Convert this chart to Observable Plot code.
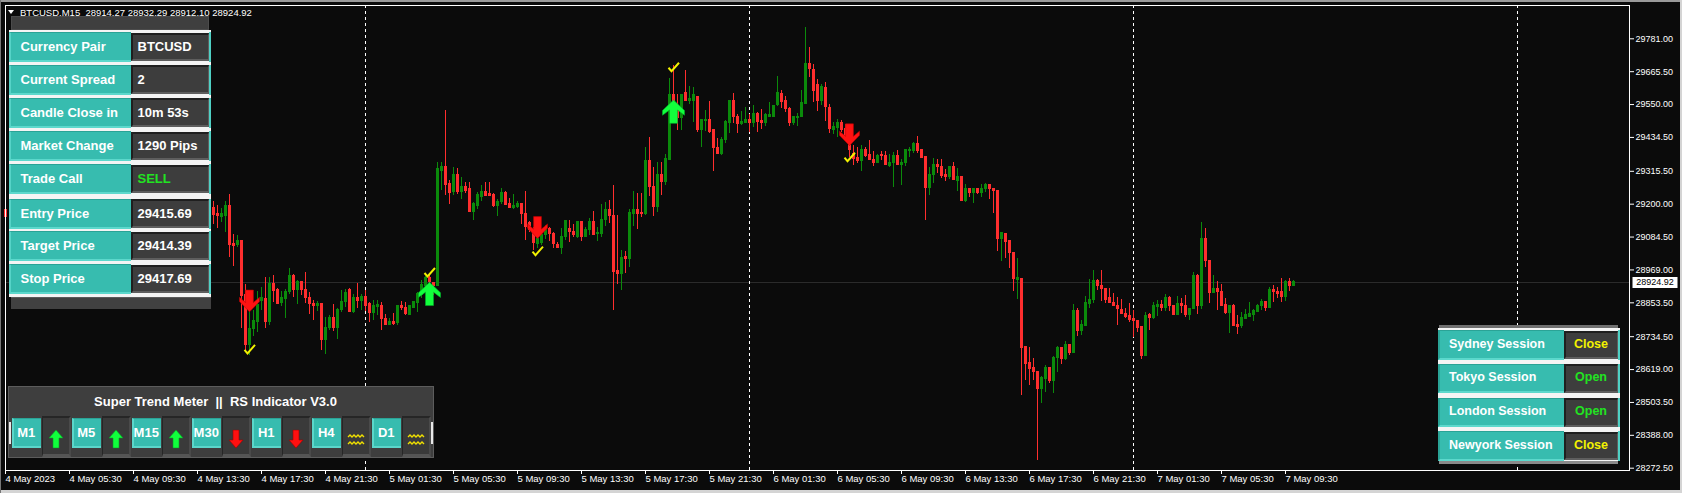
<!DOCTYPE html>
<html><head><meta charset="utf-8">
<script src="https://cdn.jsdelivr.net/npm/d3@7"></script>
<script src="https://cdn.jsdelivr.net/npm/@observablehq/plot@0.6"></script>
<style>
html,body{margin:0;padding:0;background:#0b0b0b;}
#wrap{position:relative;width:1682px;height:493px;overflow:hidden;background:#0b0b0b;font-family:"Liberation Sans",Arial,sans-serif;}
.abs{position:absolute;box-sizing:border-box;}
.txt{position:absolute;white-space:pre;font-weight:bold;line-height:1;transform:translateY(-50%);}
</style></head><body><div id="wrap"></div>
<script>
// ---------------- DATA ----------------
// bar 0, then bars 52..322 (bars 1..51 sit behind the info panel and are not shown)
const barIndex = [0].concat(d3.range(52, 323));
const opens = [29178,
29187,29164,29156,29160,29192,29060,29057,29069,28882,28704,
28762,28786,28861,28868,28786,28921,28897,28853,28868,28893,
28946,28897,28928,28899,28872,28851,28842,28848,28722,28766,
28801,28765,28827,28857,28899,28821,28870,28859,28873,28848,
28817,28838,28844,28797,28776,28785,28782,28841,28837,28809,
28837,28852,28882,28914,28940,28924,28914,29318,29330,29271,
29244,29301,29244,29262,29252,29174,29195,29225,29242,29235,
29233,29195,29207,29239,29199,29186,29189,29199,29166,29133,
29108,29061,29063,29090,29113,29096,29058,29047,29086,29113,
29104,29086,29137,29084,29110,29139,29094,29094,29145,29178,
29160,28967,28953,29014,29006,29166,29178,29168,29164,29350,
29262,29190,29301,29277,29356,29582,29529,29503,29592,29561,
29564,29578,29459,29492,29494,29459,29398,29377,29424,29485,
29564,29508,29482,29486,29494,29485,29517,29492,29485,29508,
29508,29547,29588,29561,29535,29485,29503,29506,29553,29693,
29670,29619,29562,29609,29539,29462,29468,29486,29465,29438,
29377,29362,29351,29389,29374,29356,29344,29372,29371,29333,
29345,29368,29339,29344,29386,29386,29410,29389,29365,29257,
29301,29339,29332,29304,29295,29332,29283,29297,29211,29254,
29239,29254,29239,29254,29268,29254,29248,29077,29096,29069,
29030,28934,28938,28698,28641,28623,28609,28549,28586,28623,
28578,28659,28696,28655,28704,28677,28823,28756,28772,28850,
28862,28930,28914,28903,28869,28853,28844,28830,28815,28808,
28798,28791,28768,28665,28809,28800,28840,28847,28835,28870,
28844,28809,28850,28843,28812,28833,28946,28844,29078,29002,
28887,28903,28893,28846,28817,28844,28774,28771,28797,28805,
28812,28821,28842,28855,28836,28897,28893,28893,28873,28928,
28914.27];
const highs = [29222,
29209,29195,29184,29209,29234,29092,29090,29071,28917,28832,
28826,28893,28908,28943,28943,28949,28903,28893,28900,28974,
28954,28932,28930,28960,28891,28862,28858,28852,28802,28809,
28848,28832,28897,28900,28903,28882,28921,28883,28897,28856,
28862,28862,28856,28811,28800,28815,28844,28858,28853,28841,
28858,28891,28932,28946,28949,28926,29345,29348,29529,29283,
29330,29327,29293,29275,29275,29207,29240,29266,29275,29275,
29238,29216,29254,29245,29219,29234,29209,29199,29245,29140,
29119,29096,29102,29125,29119,29102,29066,29116,29143,29143,
29129,29139,29139,29119,29149,29174,29117,29199,29205,29213,
29266,29160,29037,29034,29180,29245,29236,29236,29400,29435,
29330,29348,29348,29375,29643,29687,29584,29585,29670,29613,
29611,29578,29494,29529,29561,29459,29430,29435,29494,29564,
29590,29515,29527,29541,29515,29547,29523,29531,29517,29558,
29546,29649,29599,29578,29538,29508,29517,29599,29820,29749,
29691,29637,29619,29629,29550,29488,29496,29494,29480,29450,
29406,29398,29406,29398,29424,29385,29375,29385,29385,29375,
29383,29389,29356,29389,29400,29418,29438,29389,29365,29330,
29359,29357,29357,29321,29332,29346,29325,29297,29269,29254,
29254,29254,29269,29274,29269,29254,29248,29099,29096,29069,
29030,29010,28938,28700,28698,28658,28609,28595,28633,28623,
28665,28700,28696,28718,28707,28848,28832,28791,28877,28935,
28967,28934,28967,28903,28904,28885,28871,28864,28832,28850,
28826,28791,28770,28820,28815,28856,28862,28862,28883,28876,
28844,28876,28867,28879,28832,28961,28953,29136,29115,29002,
28948,28928,28917,28870,28843,28846,28809,28821,28830,28856,
28829,28846,28865,28855,28906,28914,28906,28938,28932,28938,
28932.29];
const lows = [29108,
29130,29113,29137,29099,29014,28982,29049,28762,28686,28668,
28736,28748,28827,28764,28774,28856,28846,28840,28800,28882,
28873,28849,28879,28850,28814,28791,28823,28687,28673,28756,
28754,28724,28821,28838,28821,28815,28832,28827,28823,28786,
28791,28809,28756,28774,28774,28774,28774,28827,28809,28809,
28832,28821,28870,28903,28914,28879,28914,29248,29230,29199,
29230,29233,29216,29237,29170,29143,29181,29209,29230,29228,
29189,29158,29198,29195,29184,29181,29184,29127,29072,29100,
29037,29043,29055,29076,29069,29045,29043,29022,29072,29067,
29084,29078,29069,29082,29090,29093,29069,29084,29122,29133,
28827,28918,28897,28955,28979,29122,29110,29152,29160,29227,
29157,29172,29230,29266,29356,29506,29459,29459,29561,29550,
29487,29452,29400,29457,29449,29316,29377,29371,29412,29449,
29482,29449,29476,29485,29453,29471,29453,29462,29473,29506,
29503,29543,29535,29523,29473,29476,29473,29503,29553,29646,
29558,29527,29547,29492,29449,29444,29435,29453,29420,29365,
29336,29342,29316,29363,29354,29332,29342,29354,29338,29330,
29260,29336,29266,29333,29365,29377,29377,29363,29143,29231,
29272,29309,29291,29281,29286,29286,29246,29211,29207,29225,
29201,29234,29222,29242,29215,29168,29035,29000,29010,28975,
28894,28865,28528,28581,28563,28581,28300,28501,28540,28571,
28536,28610,28637,28651,28668,28677,28735,28739,28772,28835,
28850,28897,28859,28852,28852,28842,28774,28814,28797,28786,
28730,28750,28653,28665,28756,28794,28805,28824,28824,28824,
28809,28809,28817,28801,28791,28833,28813,28829,28979,28852,
28887,28827,28841,28812,28747,28771,28742,28764,28794,28803,
28789,28818,28827,28824,28836,28856,28867,28853,28859,28894,
28912.10];
const closes = [29154,
29163,29157,29165,29192,29056,29052,29070,28879,28704,28762,
28788,28846,28870,28786,28921,28896,28851,28872,28893,28946,
28897,28928,28897,28870,28850,28842,28849,28722,28766,28801,
28765,28827,28857,28889,28821,28870,28859,28873,28844,28817,
28842,28847,28797,28774,28785,28778,28841,28835,28814,28841,
28856,28885,28917,28940,28928,28914,29322,29330,29266,29240,
29304,29244,29262,29248,29174,29199,29233,29242,29230,29228,
29195,29209,29239,29198,29186,29193,29199,29166,29119,29108,
29063,29078,29090,29108,29096,29061,29047,29086,29140,29102,
29090,29137,29084,29110,29139,29093,29098,29145,29178,29158,
28963,28953,29011,29006,29168,29178,29166,29165,29350,29260,
29190,29301,29277,29357,29582,29562,29502,29585,29561,29568,
29582,29459,29494,29494,29455,29398,29377,29427,29490,29564,
29506,29482,29488,29494,29486,29517,29488,29485,29512,29514,
29546,29591,29558,29535,29485,29506,29508,29556,29693,29675,
29597,29562,29611,29541,29465,29470,29486,29459,29438,29390,
29360,29351,29389,29371,29356,29344,29371,29369,29338,29345,
29371,29339,29344,29389,29391,29410,29386,29363,29257,29301,
29339,29330,29298,29295,29332,29286,29297,29211,29254,29239,
29254,29239,29254,29269,29253,29246,29077,29099,29067,29028,
28937,28940,28694,28637,28620,28609,28549,28588,28623,28578,
28661,28696,28655,28704,28677,28823,28756,28774,28852,28865,
28930,28911,28903,28865,28852,28842,28831,28814,28805,28794,
28789,28764,28665,28808,28800,28844,28847,28835,28870,28841,
28809,28850,28841,28809,28832,28946,28844,29078,28999,28887,
28903,28891,28844,28817,28843,28771,28770,28801,28812,28815,
28824,28843,28855,28836,28897,28891,28886,28873,28928,28914,
28924.92];

// signal arrows (bar index, side, arrow level, confirmation tick level)
const signalBar   = [61, 106, 133, 167, 211];
const signalSide  = ["sell", "buy", "sell", "buy", "sell"];
const arrowLevel  = [28860, 28885, 29118, 29525, 29444];
const checkLevel  = [28690, 28960, 29035, 29681, 29365];

// axes
const yTicks = [29781.00, 29665.50, 29550.00, 29434.50, 29315.50, 29200.00, 29084.50, 28969.00, 28853.50, 28734.50, 28619.00, 28503.50, 28388.00, 28272.50];
const xTickBars = [0,16,32,48,64,80,96,112,128,144,160,176,192,208,224,240,256,272,288,304,320];
const xTickLabels = ["4 May 2023","4 May 05:30","4 May 09:30","4 May 13:30","4 May 17:30","4 May 21:30",
  "5 May 01:30","5 May 05:30","5 May 09:30","5 May 13:30","5 May 17:30","5 May 21:30",
  "6 May 01:30","6 May 05:30","6 May 09:30","6 May 13:30","6 May 17:30","6 May 21:30",
  "7 May 01:30","7 May 05:30","7 May 09:30"];
const daySeparatorBars = [90, 186, 282, 378];

// panels
const infoLabels = ["Currency Pair","Current Spread","Candle Close in","Market Change","Trade Call","Entry Price","Target Price","Stop Price"];
const infoValues = ["BTCUSD","2","10m 53s","1290 Pips","SELL","29415.69","29414.39","29417.69"];
const infoValueColors = ["#fff","#fff","#fff","#fff","#22e322","#fff","#fff","#fff"];
const trendFrames = ["M1","M5","M15","M30","H1","H4","D1"];
const trendState = ["up","up","up","down","down","flat","flat"];
const sessionNames = ["Sydney Session","Tokyo Session","London Session","Newyork Session"];
const sessionState = ["Close","Open","Open","Close"];
const headerText = "BTCUSD,M15  28914.27 28932.29 28912.10 28924.92";

// ---------------- BUILD ----------------
if (![highs.length, lows.length, closes.length].every(n => n === opens.length) || opens.length !== barIndex.length)
  throw new Error("length mismatch " + [barIndex.length, opens.length, highs.length, lows.length, closes.length]);

const bars = barIndex.map((i, k) => ({i, o: opens[k], h: highs[k], l: lows[k], c: closes[k]}));
const last = bars[bars.length - 1];
const signals = signalBar.map((i, k) => ({i, side: signalSide[k], a: arrowLevel[k], chk: checkLevel[k]}));
const GREEN = "#0b8a0b", RED = "#ff2e2e";
const col = d => d.c >= d.o ? GREEN : RED;

function poly(pts) { return {draw(c){ c.moveTo(pts[0][0], pts[0][1]); for (let k = 1; k < pts.length; ++k) c.lineTo(pts[k][0], pts[k][1]); c.closePath(); }}; }
const upArrow = poly([[0,-11.7],[11,-1.2],[11,3.6],[4,-1.7],[4,11.7],[-4,11.7],[-4,-1.7],[-11,3.6],[-11,-1.2]]);
const downArrow = poly([[0,10.9],[10,0.6],[10,-3.6],[3.9,1.6],[3.9,-10.9],[-3.9,-10.9],[-3.9,1.6],[-10,-3.6],[-10,0.6]]);
const checkMark = {draw(c){c.moveTo(-5,0.5);c.lineTo(-2,4);c.lineTo(5.5,-4.5);}};
const priceBox = {draw(c){c.rect(-22.5,-5.5,45,11);}};

const chart = Plot.plot({
  width: 1682, height: 493,
  marginTop: 5, marginLeft: 5, marginRight: 53, marginBottom: 23,
  style: {background: "#0b0b0b", color: "#fff", fontFamily: "'Liberation Sans', Arial, sans-serif", fontSize: "9.5px", overflow: "visible"},
  x: {domain: [0, 406], axis: null},
  y: {domain: [28264.4, 29898], axis: null},
  marks: [
    Plot.ruleY([last.c], {stroke: "#2c2c2c"}),
    Plot.ruleX(daySeparatorBars, {x: d => d, stroke: "#fff", strokeDasharray: "3,3"}),
    Plot.ruleX(bars, {x: "i", y1: "l", y2: "h", stroke: col, shapeRendering: "crispEdges"}),
    Plot.ruleX(bars, {x: "i", y1: d => Math.max(d.o, d.c), y2: d => Math.min(d.o, d.c), stroke: col, strokeWidth: 3, insetTop: -0.5, insetBottom: -0.5, shapeRendering: "crispEdges"}),
    Plot.dot(signals.filter(d => d.side === "sell"), {x: "i", y: "a", symbol: downArrow, fill: "#ff1212", stroke: "#c00000", strokeWidth: 0.6}),
    Plot.dot(signals.filter(d => d.side === "buy"), {x: "i", y: "a", symbol: upArrow, fill: "#12ff3c", stroke: "#00b02a", strokeWidth: 0.6}),
    Plot.dot(signals, {x: "i", y: "chk", symbol: checkMark, fill: "none", stroke: "#f2f200", strokeWidth: 2}),
    Plot.axisY({ticks: yTicks, anchor: "right", tickSize: 4, tickPadding: 2, tickFormat: d => d.toFixed(2), fontSize: 9, label: null}),
    Plot.axisX({ticks: xTickBars, anchor: "bottom", tickSize: 4, tickPadding: 1, tickFormat: i => xTickLabels[xTickBars.indexOf(i)], textAnchor: "start", fontSize: 9.5, label: null}),
    Plot.dot([last.c], {y: d => d, frameAnchor: "right", dx: 25.5, symbol: priceBox, fill: "#fff", stroke: "none"}),
    Plot.text([last.c], {y: d => d, frameAnchor: "right", dx: 25.5, text: d => d.toFixed(2), fill: "#000", fontSize: 9, textAnchor: "middle"}),
    Plot.frame({stroke: "#fff"})
  ]
});
chart.style.position = "absolute";
chart.style.left = "0px";
chart.style.top = "0px";
const wrap = document.getElementById("wrap");
wrap.appendChild(chart);

function box(x, y, w, h, css) {
  const d = document.createElement("div");
  d.className = "abs";
  Object.assign(d.style, {left: x + "px", top: y + "px", width: w + "px", height: h + "px"}, css || {});
  wrap.appendChild(d);
  return d;
}
function label(x, y, text, css) {
  const d = document.createElement("div");
  d.className = "txt";
  d.textContent = text;
  Object.assign(d.style, {left: x + "px", top: y + "px"}, css || {});
  wrap.appendChild(d);
  return d;
}
const TEAL = "#37bcaf";

// window borders
box(0, 0, 1682, 2, {background: "#9a9a9a"});
box(0, 490, 1682, 3, {background: "#d4d4d4"});
box(1680, 0, 2, 493, {background: "#d4d4d4"});
box(0, 0, 1, 493, {background: "#777"});

// header
box(8, 10, 0, 0, {borderLeft: "3.5px solid transparent", borderRight: "3.5px solid transparent", borderTop: "4px solid #fff"});
label(20, 12.5, headerText, {fontWeight: "normal", fontSize: "9.5px", color: "#fff"});

// ---- info panel ----
box(11, 16, 198, 14, {background: "#3f3f3f", border: "1px solid #4c4c4c"});
box(9, 30, 202, 267, {background: "#f4f4f4"});
infoLabels.forEach((t, r) => {
  const c = [46, 78.5, 111.5, 145, 178, 212.5, 245, 278][r];
  box(9, c - 14, 122, 30, {background: TEAL, borderTop: "1px solid #2aa396", borderBottom: "2px solid #5cd8cc", borderLeft: "2px solid #56d3c7"});
  box(131, c - 13.5, 78, 28.5, {background: "#3d3d3d", borderLeft: "2px solid #1f1f1f", borderTop: "2px solid #1f1f1f", borderBottom: "2px solid #5e5e5e", borderRight: "1px solid #5e5e5e"});
  box(209, c - 14, 2, 30, {background: "#4fd0c4"});
  label(20.5, c, t, {fontSize: "13px", color: "#fff"});
  label(137.5, c, infoValues[r], {fontSize: "13px", color: infoValueColors[r]});
});
box(11, 297, 200, 12, {background: "#414141", borderTop: "1px solid #5a5a5a"});

// ---- trend meter panel ----
box(7.5, 386, 426.5, 72, {background: "#3e3e3e", border: "1px solid #5c5c5c"});
label(215.5, 400.5, "Super Trend Meter  ||  RS Indicator V3.0", {fontSize: "13px", color: "#fff", transform: "translate(-50%,-50%)"});
box(8.5, 422, 2, 22, {background: "#e8e8e8"});
box(431, 422, 2, 22, {background: "#e8e8e8"});
const icon = {
  up: '<svg width="16" height="19" viewBox="-8 -9.5 16 19"><path d="M0,-9 L7,-1 L3,-1 L3,9 L-3,9 L-3,-1 L-7,-1Z" fill="#10ff3c" stroke="#0a9a2a" stroke-width="0.6"/></svg>',
  down: '<svg width="16" height="19" viewBox="-8 -9.5 16 19"><path d="M0,9 L7,1 L3,1 L3,-9 L-3,-9 L-3,1 L-7,1Z" fill="#ff1010" stroke="#a00000" stroke-width="0.6"/></svg>',
  flat: '<svg width="18" height="16" viewBox="0 0 18 16"><path d="M1,6 l2,-2 l2,2 l2,-2 l2,2 l2,-2 l2,2 l2,-2 l2,2 M1,13 l2,-2 l2,2 l2,-2 l2,2 l2,-2 l2,2 l2,-2 l2,2" fill="none" stroke="#f0e000" stroke-width="1.4"/></svg>'
};
trendFrames.forEach((t, k) => {
  const x0 = 11.5 + 60 * k;
  box(x0, 418, 29.5, 30, {background: TEAL, borderLeft: "2px solid #5ad6ca", borderBottom: "2px solid #5ad6ca", borderTop: "1px solid #2aa396"});
  label(x0 + 14.75, 432, t, {fontSize: "13px", color: "#fff", transform: "translate(-50%,-50%)"});
  const d = box(x0 + 30, 415.5, 29.5, 41, {background: "#3a3a3a", borderTop: "2px solid #262626", borderLeft: "1px solid #262626", borderBottom: "3px solid #555", borderRight: "2px solid #4a4a4a"});
  d.innerHTML = '<div style="position:absolute;left:50%;top:21px;transform:translate(-50%,-50%);line-height:0">' + icon[trendState[k]] + '</div>';
});

// ---- session panel ----
box(1439, 325, 179, 3, {background: "#707070"});
box(1438, 328, 182, 133, {background: "#f4f4f4"});
sessionNames.forEach((t, r) => {
  const c = 343.5 + 33.8 * r;
  box(1438, c - 13.5, 126, 29.5, {background: TEAL, borderTop: "1px solid #2aa396", borderBottom: "2px solid #5cd8cc", borderLeft: "2px solid #2aa396"});
  box(1564, c - 13, 54, 28.5, {background: "#3d3d3d", borderLeft: "2px solid #1f1f1f", borderTop: "2px solid #1f1f1f", borderBottom: "2px solid #5e5e5e", borderRight: "1px solid #5e5e5e"});
  box(1617.5, c - 13.5, 2, 29.5, {background: "#4fd0c4"});
  label(1449, c, t, {fontSize: "12.5px", color: "#fff"});
  label(1591, c, sessionState[r], {fontSize: "12.5px", color: sessionState[r] === "Open" ? "#22e322" : "#f2f200", transform: "translate(-50%,-50%)"});
});
box(1439, 460.5, 179, 3.5, {background: "#8a8a8a"});
</script></body></html>
